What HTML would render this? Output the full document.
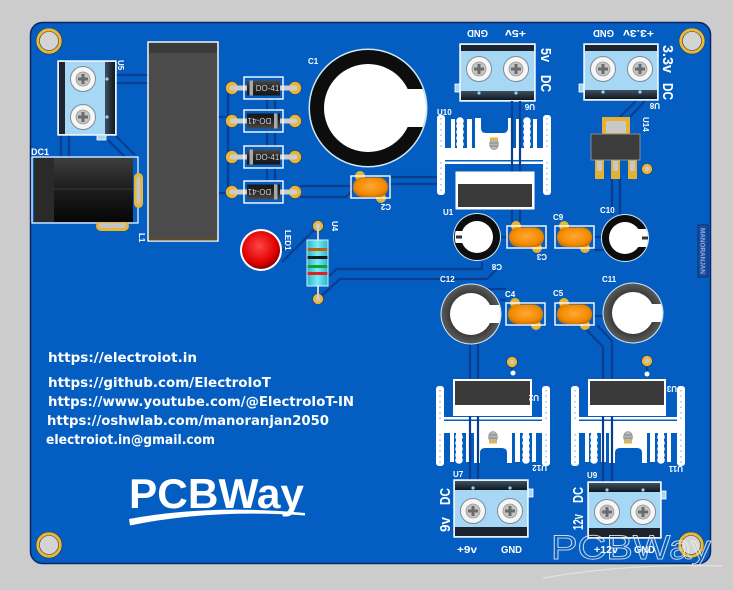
<!DOCTYPE html>
<html><head><meta charset="utf-8"><style>
html,body{margin:0;padding:0;background:#cccccc;}
svg{display:block}
</style></head><body>
<svg width="733" height="590" viewBox="0 0 733 590" xmlns="http://www.w3.org/2000/svg">
<defs>
 <radialGradient id="og" cx="50%" cy="45%" r="60%"><stop offset="0" stop-color="#ffa838"/><stop offset="0.7" stop-color="#f38b00"/><stop offset="1" stop-color="#c86a00"/></radialGradient>
 <radialGradient id="rg" cx="45%" cy="40%" r="60%"><stop offset="0" stop-color="#ff4545"/><stop offset="0.75" stop-color="#e00000"/><stop offset="1" stop-color="#8a0000"/></radialGradient>
 <linearGradient id="blk" x1="0" y1="0" x2="0" y2="1"><stop offset="0" stop-color="#3e3e3e"/><stop offset="0.5" stop-color="#1c1c1c"/><stop offset="1" stop-color="#060606"/></linearGradient>
 <linearGradient id="dg" x1="0" y1="0" x2="0" y2="1"><stop offset="0" stop-color="#4a4a4a"/><stop offset="0.5" stop-color="#262626"/><stop offset="1" stop-color="#151515"/></linearGradient>
 <linearGradient id="td" x1="0" y1="0" x2="0" y2="1"><stop offset="0" stop-color="#40505f"/><stop offset="1" stop-color="#0f1820"/></linearGradient>
 <linearGradient id="tdh" x1="0" y1="0" x2="1" y2="0"><stop offset="0" stop-color="#40505f"/><stop offset="1" stop-color="#0f1820"/></linearGradient>
 <linearGradient id="cy" x1="0" y1="0" x2="1" y2="0"><stop offset="0" stop-color="#2ab4cc"/><stop offset="0.5" stop-color="#78ecf6"/><stop offset="1" stop-color="#2ab4cc"/></linearGradient>
 <radialGradient id="gr" cx="50%" cy="50%" r="50%"><stop offset="0.7" stop-color="#3a3a3a"/><stop offset="1" stop-color="#5a5a5a"/></radialGradient>
 <g id="screw"><circle r="12.5" fill="#f6f6f6" stroke="#7d8a96" stroke-width="1"/><circle r="7" fill="#c4c4c4" stroke="#999" stroke-width="0.8"/><rect x="-5" y="-1.5" width="10" height="3" fill="#6a6a6a"/><rect x="-1.5" y="-5" width="3" height="10" fill="#6a6a6a"/></g>
 <g id="pad"><circle r="5.5" fill="#e8b535" stroke="#1a3a70" stroke-width="0.6"/><circle r="2.5" fill="#c8c8c8"/></g>
 <g id="cap">
  <circle cx="9" cy="0" r="5" fill="#e8b535"/>
  <circle cx="30" cy="22" r="5" fill="#e8b535"/>
  <rect x="0" y="0" width="39" height="22" fill="none" stroke="#fff" stroke-width="1.4"/>
  <rect x="2" y="1.5" width="35" height="19.5" rx="9.5" fill="url(#og)"/>
 </g>
 <g id="dio">
  <circle cx="-31.5" r="6.5" fill="#e8b535" stroke="#1a3a70" stroke-width="0.6"/>
  <circle cx="31.5" r="6.5" fill="#e8b535" stroke="#1a3a70" stroke-width="0.6"/>
  <line x1="-31.5" y1="0" x2="31.5" y2="0" stroke="#cdcdcd" stroke-width="5" stroke-linecap="round"/>
  <rect x="-19.5" y="-11" width="39" height="22" fill="none" stroke="#fff" stroke-width="1.4"/>
  <rect x="-16.5" y="-7.5" width="33" height="15" fill="url(#dg)"/>
  <rect x="-14" y="-7.5" width="3.5" height="15" fill="#a9a9a9"/>
  <text x="4" y="3" font-family="Liberation Sans, sans-serif" font-size="8" fill="#cfcfcf" text-anchor="middle">DO-41</text>
 </g>
 <g id="hs" fill="#fff">
  <rect x="0" y="0" width="8" height="80" rx="3"/>
  <rect x="106" y="0" width="8" height="80" rx="3"/>
  <line x1="4" y1="4" x2="4" y2="77" stroke="#7fb0e8" stroke-width="1.2" stroke-dasharray="1.5 4"/>
  <line x1="110" y1="4" x2="110" y2="77" stroke="#7fb0e8" stroke-width="1.2" stroke-dasharray="1.5 4"/>
  <rect x="8" y="31" width="98" height="2.5"/>
  <rect x="0" y="35" width="114" height="12"/>
  <rect x="14" y="47" width="4" height="29"/>
  <rect x="20" y="47" width="6" height="29"/>
  <circle cx="23" cy="51" r="3.8"/><circle cx="23" cy="57" r="3.8"/><circle cx="23" cy="63" r="3.8"/><circle cx="23" cy="69" r="3.8"/><circle cx="23" cy="74" r="3.8"/>
  <rect x="30" y="47" width="5" height="29"/>
  <rect x="38" y="47" width="38" height="30"/>
  <path d="M44,81 V67 Q44,62 49,62 H66 Q71,62 71,67 V81 Z" fill="#045ec1"/>
  <rect x="79" y="47" width="5" height="29"/>
  <rect x="87" y="47" width="6" height="29"/>
  <circle cx="90" cy="51" r="3.8"/><circle cx="90" cy="57" r="3.8"/><circle cx="90" cy="63" r="3.8"/><circle cx="90" cy="69" r="3.8"/><circle cx="90" cy="74" r="3.8"/>
  <rect x="96" y="47" width="4" height="29"/>
  <ellipse cx="57" cy="51" rx="4.5" ry="5.5" fill="#b8b8b8" stroke="#888" stroke-width="0.6"/>
  <line x1="53" y1="49" x2="61" y2="49" stroke="#777" stroke-width="0.8"/>
  <line x1="53" y1="52" x2="61" y2="52" stroke="#777" stroke-width="0.8"/>
  <rect x="53" y="55" width="8" height="2.5" fill="#e8b535"/>
 </g>
</defs>

<rect width="733" height="590" fill="#cccccc"/>
<!-- board -->
<rect x="30.5" y="22.5" width="680" height="541" rx="12" fill="#045ec1" stroke="#0a2468" stroke-width="1.5"/>

<!-- mounting holes -->
<g stroke="#2a3a5a" stroke-width="0.6">
<circle cx="49" cy="41" r="13" fill="#e9b935"/><circle cx="49" cy="41" r="9.5" fill="#d4d4d4"/>
<circle cx="692" cy="41" r="13" fill="#e9b935"/><circle cx="692" cy="41" r="9.5" fill="#d4d4d4"/>
<circle cx="49" cy="545" r="13" fill="#e9b935"/><circle cx="49" cy="545" r="9.5" fill="#d4d4d4"/>
<circle cx="691" cy="545" r="13" fill="#e9b935"/><circle cx="691" cy="545" r="9.5" fill="#d4d4d4"/>
</g>

<!-- traces (under) -->
<g fill="none" stroke="#0b3d8f" stroke-width="2.2" stroke-linejoin="round">
 <path d="M116,75 H148 M116,83 H148 M61,135 V157 M69,135 V157 M108,140 L125,157 M116,136 L135,155"/>
 <path d="M218,117 H232 M218,193 H232 M228,88 V192"/>
 <path d="M267,99 V110 M275,99 V110 M267,132 V146 M275,132 V146 M267,168 V181 M275,168 V181"/>
 <path d="M300,186 H352 M300,197 H346 L352,191 M390,177 H438 M390,184 H438"/>
 <path d="M282,262 L318,226 M276,256 L290,244"/>
 <path d="M318,299 L340,279 H487 L496,270 M329,276 L337,269 H482 V262"/>
 <path d="M500,237 H507 M594,237 H602 M594,250 H610"/>
 <path d="M636,101 L620,117 M645,101 L630,117 M612,178 V215 M620,178 V215"/>
 <path d="M488,289 H506 M500,300 H506 M594,316 H603"/>
 <path d="M582,325 L603,347 V482 M597,325 L612,341 V482"/>
 <path d="M470,344 V480 M478,344 V480"/>
 <path d="M512,362 V373 M647,361 V374"/>
</g>

<!-- U5 terminal (vertical) -->
<rect x="58" y="61" width="58" height="74" fill="#a6d8f6" stroke="#fff" stroke-width="1.4"/>
<rect x="59" y="62" width="6" height="72" fill="#1c2430"/>
<rect x="105" y="62" width="10" height="72" fill="url(#tdh)"/>
<circle cx="107" cy="79" r="1.6" fill="#9fd0f0"/><circle cx="107" cy="117" r="1.6" fill="#9fd0f0"/>
<rect x="97" y="135" width="9" height="5" fill="#a6d8f6" stroke="#fff" stroke-width="0.8"/>
<use href="#screw" x="83" y="79"/><use href="#screw" x="83" y="117"/>

<!-- DC1 -->
<rect x="32" y="157" width="106" height="66" fill="none" stroke="#fff" stroke-width="1.2"/>
<rect x="134" y="173" width="9" height="35" rx="4.5" fill="#e8b535"/>
<rect x="136.5" y="177" width="4" height="27" rx="2" fill="#c4c4c4"/>
<rect x="96" y="221" width="33" height="10" rx="5" fill="#e8b535"/>
<rect x="99" y="223" width="27" height="5" rx="2.5" fill="#c4c4c4"/>
<rect x="34" y="158" width="99" height="64" fill="url(#blk)"/>
<rect x="34" y="158" width="20" height="64" fill="#2a2a2a"/>
<line x1="54" y1="189" x2="133" y2="189" stroke="#444" stroke-width="0.8"/>

<!-- L1 -->
<rect x="148" y="42" width="70" height="199" fill="#4b4b4b" stroke="#fff" stroke-width="1.4"/>
<rect x="149" y="43" width="68" height="10" fill="#3a3a3a"/>
<rect x="149" y="238" width="68" height="2.5" fill="#5e4a2c"/>

<!-- diodes -->
<use href="#dio" transform="translate(263.5,88)"/>
<use href="#dio" transform="translate(263.5,121) rotate(180)"/>
<use href="#dio" transform="translate(263.5,157)"/>
<use href="#dio" transform="translate(263.5,192) rotate(180)"/>

<!-- C1 -->
<circle cx="368" cy="108" r="59.5" fill="#cfe9f7"/>
<circle cx="368" cy="108" r="58" fill="#0d0d0d"/>
<circle cx="368" cy="108" r="44" fill="#fff"/>
<path d="M400,89 H422.8 A58,58 0 0 1 422.8,127 H400 Z" fill="#fff"/>

<!-- C2 -->
<use href="#cap" x="351" y="176"/>

<!-- LED1 -->
<circle cx="261" cy="250" r="21" fill="#fff"/>
<circle cx="261" cy="250" r="19" fill="url(#rg)"/>

<!-- resistor U4 -->
<use href="#pad" x="318" y="226"/><use href="#pad" x="318" y="299"/>
<line x1="318" y1="226" x2="318" y2="299" stroke="#d0d0d0" stroke-width="2"/>
<rect x="307" y="240" width="21" height="46" fill="url(#cy)" stroke="#d8f0f8" stroke-width="1"/>
<rect x="307.5" y="248" width="20" height="3" fill="#b8620e"/>
<rect x="307.5" y="256" width="20" height="3" fill="#1a1a1a"/>
<rect x="307.5" y="265" width="20" height="3" fill="#12a030"/>
<rect x="307.5" y="272" width="20" height="3" fill="#e02020"/>

<!-- U6 terminal 5v -->
<rect x="455" y="84" width="5" height="8" fill="#a6d8f6" stroke="#fff" stroke-width="0.8"/>
<rect x="460" y="44" width="75" height="57" fill="#a6d8f6" stroke="#fff" stroke-width="1.4"/>
<rect x="461" y="45" width="73" height="6" fill="#1c2430"/>
<rect x="461" y="91" width="73" height="9" fill="url(#td)"/>
<circle cx="479" cy="93" r="1.6" fill="#9fd0f0"/><circle cx="516" cy="93" r="1.6" fill="#9fd0f0"/>
<use href="#screw" x="479" y="69"/><use href="#screw" x="516" y="69"/>

<!-- U8 terminal 3.3v -->
<rect x="579" y="84" width="5" height="8" fill="#a6d8f6" stroke="#fff" stroke-width="0.8"/>
<rect x="584" y="44" width="74" height="56" fill="#a6d8f6" stroke="#fff" stroke-width="1.4"/>
<rect x="585" y="45" width="72" height="6" fill="#1c2430"/>
<rect x="585" y="90" width="72" height="9" fill="url(#td)"/>
<circle cx="603" cy="92" r="1.6" fill="#9fd0f0"/><circle cx="640" cy="92" r="1.6" fill="#9fd0f0"/>
<use href="#screw" x="603" y="69"/><use href="#screw" x="640" y="69"/>

<!-- U14 SOT-223 -->
<rect x="602" y="117" width="28" height="19" fill="#e8b030"/>
<rect x="606" y="121" width="20" height="12" fill="#c8c8c8"/>
<rect x="595" y="159" width="9" height="20" fill="#e8b030"/><rect x="597" y="161" width="5" height="10" fill="#c8c8c8"/>
<rect x="611" y="159" width="9" height="20" fill="#e8b030"/><rect x="613" y="161" width="5" height="10" fill="#c8c8c8"/>
<rect x="628" y="159" width="9" height="20" fill="#e8b030"/><rect x="630" y="161" width="5" height="10" fill="#c8c8c8"/>
<rect x="591" y="134" width="49" height="26" fill="#3c3c3c" stroke="#9a9a9a" stroke-width="0.8"/>
<use href="#pad" x="647" y="169"/>

<!-- heatsinks -->
<use href="#hs" transform="translate(437,195) scale(1,-1)"/>
<use href="#hs" transform="translate(436,386)"/>
<use href="#hs" transform="translate(571,386)"/>

<!-- traces over heatsinks -->
<g fill="none" stroke="#0b3d8f" stroke-width="2.2">
 <path d="M512,101 V226 M520,101 V226"/>
 <path d="M470,390 V480 M478,390 V480"/>
 <path d="M603,390 V482 M612,390 V482"/>
</g>

<!-- regulator bodies -->
<rect x="456" y="172" width="78" height="37" fill="#fff" stroke="#fff" stroke-width="1"/>
<rect x="458" y="184" width="74" height="23" fill="#3a3a3a"/>
<rect x="453" y="379" width="79" height="37" fill="#fff"/>
<rect x="455" y="381" width="75" height="24" fill="#3a3a3a"/>
<rect x="588" y="379" width="78" height="37" fill="#fff"/>
<rect x="590" y="381" width="74" height="24" fill="#3a3a3a"/>
<use href="#pad" x="512" y="362"/><circle cx="513" cy="373" r="2.5" fill="#fff"/>
<use href="#pad" x="647" y="361"/><circle cx="647" cy="374" r="2.5" fill="#fff"/>

<!-- small electrolytics -->
<circle cx="477" cy="237" r="24" fill="#cfe9f7"/>
<circle cx="477" cy="237" r="23" fill="#0d0d0d"/>
<circle cx="477" cy="237" r="16" fill="#fff"/>
<path d="M465,231 H455.6 A23,23 0 0 0 455.6,243 H465 Z" fill="#fff"/>
<rect x="456" y="235.5" width="6" height="3" fill="#333"/>
<circle cx="625" cy="238" r="24" fill="#cfe9f7"/>
<circle cx="625" cy="238" r="23" fill="#0d0d0d"/>
<circle cx="625" cy="238" r="16" fill="#fff"/>
<path d="M635,229 H646.3 A23,23 0 0 1 646.3,247 H635 Z" fill="#fff"/>
<rect x="642" y="236.5" width="6" height="3" fill="#333"/>

<!-- C12 / C11 -->
<circle cx="471" cy="314" r="30.5" fill="#d8ecf8"/>
<circle cx="471" cy="314" r="29.5" fill="url(#gr)"/>
<circle cx="471" cy="314" r="21" fill="#fff"/>
<path d="M486,305 H499.1 A29.5,29.5 0 0 1 499.1,323 H486 Z" fill="#fff"/>
<circle cx="633" cy="313" r="30.5" fill="#d8ecf8"/>
<circle cx="633" cy="313" r="29.5" fill="url(#gr)"/>
<circle cx="633" cy="313" r="21" fill="#fff"/>
<path d="M648,304 H661.1 A29.5,29.5 0 0 1 661.1,322 H648 Z" fill="#fff"/>

<!-- orange caps -->
<use href="#cap" x="507" y="226"/>
<use href="#cap" x="555" y="226"/>
<use href="#cap" x="506" y="303"/>
<use href="#cap" x="555" y="303"/>

<!-- U7 terminal 9v -->
<rect x="528" y="489" width="5" height="8" fill="#a6d8f6" stroke="#fff" stroke-width="0.8"/>
<rect x="454" y="480" width="74" height="57" fill="#a6d8f6" stroke="#fff" stroke-width="1.4"/>
<rect x="455" y="481" width="72" height="9" fill="url(#td)"/>
<rect x="455" y="527" width="72" height="9" fill="#1c2430"/>
<circle cx="473" cy="488" r="1.6" fill="#9fd0f0"/><circle cx="510" cy="488" r="1.6" fill="#9fd0f0"/>
<use href="#screw" x="473" y="511"/><use href="#screw" x="510" y="511"/>

<!-- U9 terminal 12v -->
<rect x="661" y="491" width="5" height="8" fill="#a6d8f6" stroke="#fff" stroke-width="0.8"/>
<rect x="588" y="482" width="73" height="56" fill="#a6d8f6" stroke="#fff" stroke-width="1.4"/>
<rect x="589" y="483" width="71" height="9" fill="url(#td)"/>
<rect x="589" y="528" width="71" height="9" fill="#1c2430"/>
<circle cx="607" cy="490" r="1.6" fill="#9fd0f0"/><circle cx="643" cy="490" r="1.6" fill="#9fd0f0"/>
<use href="#screw" x="607" y="512"/><use href="#screw" x="643" y="512"/>

<!-- MANORANJAN tag -->
<rect x="698" y="225" width="10" height="52" fill="#1e4c9c" stroke="#0a2a6a" stroke-width="0.8"/>
<text transform="translate(700.5,228) rotate(90)" font-family="Liberation Sans, sans-serif" font-weight="bold" font-size="6" fill="#8fb0e0" textLength="46" lengthAdjust="spacingAndGlyphs">MANORANJAN</text>

<!-- silkscreen labels -->
<g font-family="Liberation Sans, sans-serif" font-weight="bold" font-size="8" fill="#fff">
 <text transform="translate(118,60) rotate(90)">U5</text>
 <text x="31" y="155" font-size="9">DC1</text>
 <text transform="translate(139,233) rotate(90)">L1</text>
 <text x="308" y="64">C1</text>
 <text transform="translate(391,204) rotate(180)">C2</text>
 <text transform="translate(285,230) rotate(90)">LED1</text>
 <text transform="translate(332,221) rotate(90)">U4</text>
 <text x="437" y="115">U10</text>
 <text transform="translate(535,104) rotate(180)">U6</text>
 <text transform="translate(660,103) rotate(180)">U8</text>
 <text transform="translate(643,117) rotate(90)">U14</text>
 <text x="443" y="215">U1</text>
 <text transform="translate(502,264) rotate(180)">C8</text>
 <text transform="translate(547,254) rotate(180)">C3</text>
 <text x="553" y="220">C9</text>
 <text x="600" y="213">C10</text>
 <text x="440" y="282">C12</text>
 <text x="602" y="282">C11</text>
 <text x="505" y="297">C4</text>
 <text x="553" y="296">C5</text>
 <text transform="translate(539,395) rotate(180)">U2</text>
 <text transform="translate(677,386) rotate(180)">U3</text>
 <text transform="translate(547,465) rotate(180)">U12</text>
 <text transform="translate(683,466) rotate(180)">U11</text>
 <text x="453" y="477">U7</text>
 <text x="587" y="478">U9</text>
</g>

<!-- terminal labels -->
<g font-family="Liberation Sans, sans-serif" font-weight="bold" font-size="10" fill="#fff">
 <text transform="translate(488,30) rotate(180)" textLength="21" lengthAdjust="spacingAndGlyphs">GND</text>
 <text transform="translate(526,30) rotate(180)" textLength="21" lengthAdjust="spacingAndGlyphs">+5v</text>
 <text transform="translate(614,30) rotate(180)" textLength="21" lengthAdjust="spacingAndGlyphs">GND</text>
 <text transform="translate(654,30) rotate(180)" textLength="31" lengthAdjust="spacingAndGlyphs">+3.3v</text>
 <text x="457" y="553" textLength="20" lengthAdjust="spacingAndGlyphs">+9v</text>
 <text x="501" y="553" textLength="21" lengthAdjust="spacingAndGlyphs">GND</text>
 <text x="594" y="553" textLength="24" lengthAdjust="spacingAndGlyphs">+12v</text>
 <text x="634" y="553" textLength="21" lengthAdjust="spacingAndGlyphs">GND</text>
</g>
<g font-family="Liberation Sans, sans-serif" font-weight="bold" font-size="15" fill="#fff">
 <text transform="translate(541,48) rotate(90)" textLength="14" lengthAdjust="spacingAndGlyphs">5v</text>
 <text transform="translate(541,75) rotate(90)" textLength="17" lengthAdjust="spacingAndGlyphs">DC</text>
 <text transform="translate(663,45) rotate(90)" textLength="28" lengthAdjust="spacingAndGlyphs">3.3v</text>
 <text transform="translate(663,83) rotate(90)" textLength="17" lengthAdjust="spacingAndGlyphs">DC</text>
 <text transform="translate(450,532) rotate(-90)" textLength="15" lengthAdjust="spacingAndGlyphs">9v</text>
 <text transform="translate(450,505) rotate(-90)" textLength="17" lengthAdjust="spacingAndGlyphs">DC</text>
 <text transform="translate(583,530) rotate(-90)" textLength="16" lengthAdjust="spacingAndGlyphs">12v</text>
 <text transform="translate(583,503) rotate(-90)" textLength="16" lengthAdjust="spacingAndGlyphs">DC</text>
</g>

<!-- link texts -->
<g font-family="DejaVu Sans, sans-serif" font-weight="bold" font-size="13.5" fill="#fff">
 <text x="48" y="362" textLength="149" lengthAdjust="spacingAndGlyphs">https://electroiot.in</text>
 <text x="48" y="387" textLength="223" lengthAdjust="spacingAndGlyphs">https://github.com/ElectroIoT</text>
 <text x="48" y="406" textLength="306" lengthAdjust="spacingAndGlyphs">https://www.youtube.com/@ElectroIoT-IN</text>
 <text x="47" y="425" textLength="282" lengthAdjust="spacingAndGlyphs">https://oshwlab.com/manoranjan2050</text>
 <text x="46" y="444" textLength="169" lengthAdjust="spacingAndGlyphs">electroiot.in@gmail.com</text>
</g>

<!-- PCBWay logo -->
<text x="129" y="508" font-family="Liberation Sans, sans-serif" font-weight="bold" font-size="42" fill="#fff" textLength="175" lengthAdjust="spacingAndGlyphs">PCBWay</text>
<path d="M129,519 Q210,504 305,513 L305,515.5 Q210,509 130,525.5 Z" fill="#fff"/>

<!-- watermark -->
<text x="551" y="559" font-family="Liberation Sans, sans-serif" font-size="34" fill="none" stroke="#eeeeee" stroke-width="0.9" opacity="0.85" textLength="160" lengthAdjust="spacingAndGlyphs">PCBWay</text>
<path d="M543,578 Q630,563 722,566" fill="none" stroke="#e6e6e6" stroke-width="1.2" opacity="0.85"/>
</svg>
</body></html>
